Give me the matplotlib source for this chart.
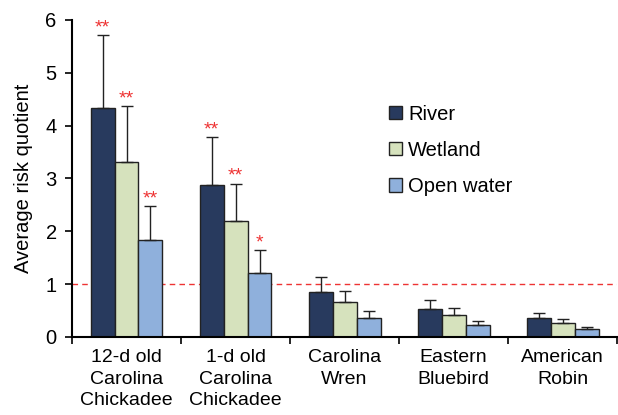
import numpy as np
import matplotlib
matplotlib.use("Agg")
import matplotlib.pyplot as plt

plt.rcParams["font.family"] = ["Liberation Sans", "DejaVu Sans"]

categories = ["12-d old\nCarolina\nChickadee", "1-d old\nCarolina\nChickadee",
              "Carolina\nWren", "Eastern\nBluebird", "American\nRobin"]
series = ["River", "Wetland", "Open water"]
river = [4.34, 2.88, 0.86, 0.53, 0.35]
wetland = [3.31, 2.20, 0.66, 0.41, 0.26]
open_water = [1.83, 1.22, 0.36, 0.23, 0.15]
river_err = [1.37, 0.90, 0.27, 0.17, 0.11]
wetland_err = [1.06, 0.70, 0.21, 0.13, 0.08]
open_err = [0.64, 0.42, 0.13, 0.08, 0.04]
river_sig = ["**", "**", "", "", ""]
wetland_sig = ["**", "**", "", "", ""]
open_sig = ["**", "*", "", "", ""]
colors = ["#283a5e", "#d6e2bd", "#8fb0dc"]

fig = plt.figure(figsize=(6.18, 4.15), dpi=100)
ax = fig.add_axes([0.1165, 0.188, 0.882, 0.764])

x = np.arange(len(categories))
w = 0.22
vals = [river, wetland, open_water]
errs = [river_err, wetland_err, open_err]
sigs = [river_sig, wetland_sig, open_sig]
for i, (name, v, e, s, c) in enumerate(zip(series, vals, errs, sigs, colors)):
    pos = x + (i - 1) * w
    ax.bar(pos, v, w, color=c, edgecolor="#222222", linewidth=1.0, label=name, zorder=2)
    ax.errorbar(pos, v, yerr=[np.zeros(len(v)), e], fmt="none", ecolor="#222222",
                elinewidth=1.0, capsize=4, capthick=1.0, zorder=3)
    for p, top, err, mark in zip(pos, v, e, s):
        if mark:
            ax.text(p, top + err - 0.02, mark, color="#ee3333", ha="center", va="bottom",
                    fontsize=14)

ax.axhline(1, color="#ee3333", linestyle=(0, (4, 3)), linewidth=1.0, zorder=1)

ax.set_xlim(-0.5, len(categories) - 0.5)
ax.set_ylim(0, 6)
ax.set_yticks(range(7))
ax.set_xticks(x)
ax.set_xticklabels(categories, fontsize=14, linespacing=1.32)
ax.set_xticks(np.arange(-0.5, len(categories)), minor=True)
ax.tick_params(axis="x", which="major", length=0, pad=9)
ax.tick_params(axis="x", which="minor", length=5, width=1.2, direction="out")
ax.tick_params(axis="y", labelsize=14.5, length=5, width=1.2, direction="out", pad=6)
ax.set_ylabel("Average risk quotient", fontsize=14.5, labelpad=9)
for sp in ["top", "right"]:
    ax.spines[sp].set_visible(False)
for sp in ["left", "bottom"]:
    ax.spines[sp].set_linewidth(1.5)

ax.legend(loc="upper left", bbox_to_anchor=(0.548, 0.79), frameon=False, fontsize=14.5,
          handlelength=0.65, handleheight=0.65, labelspacing=0.85, handletextpad=0.3)

fig.savefig("out.png", dpi=100)
